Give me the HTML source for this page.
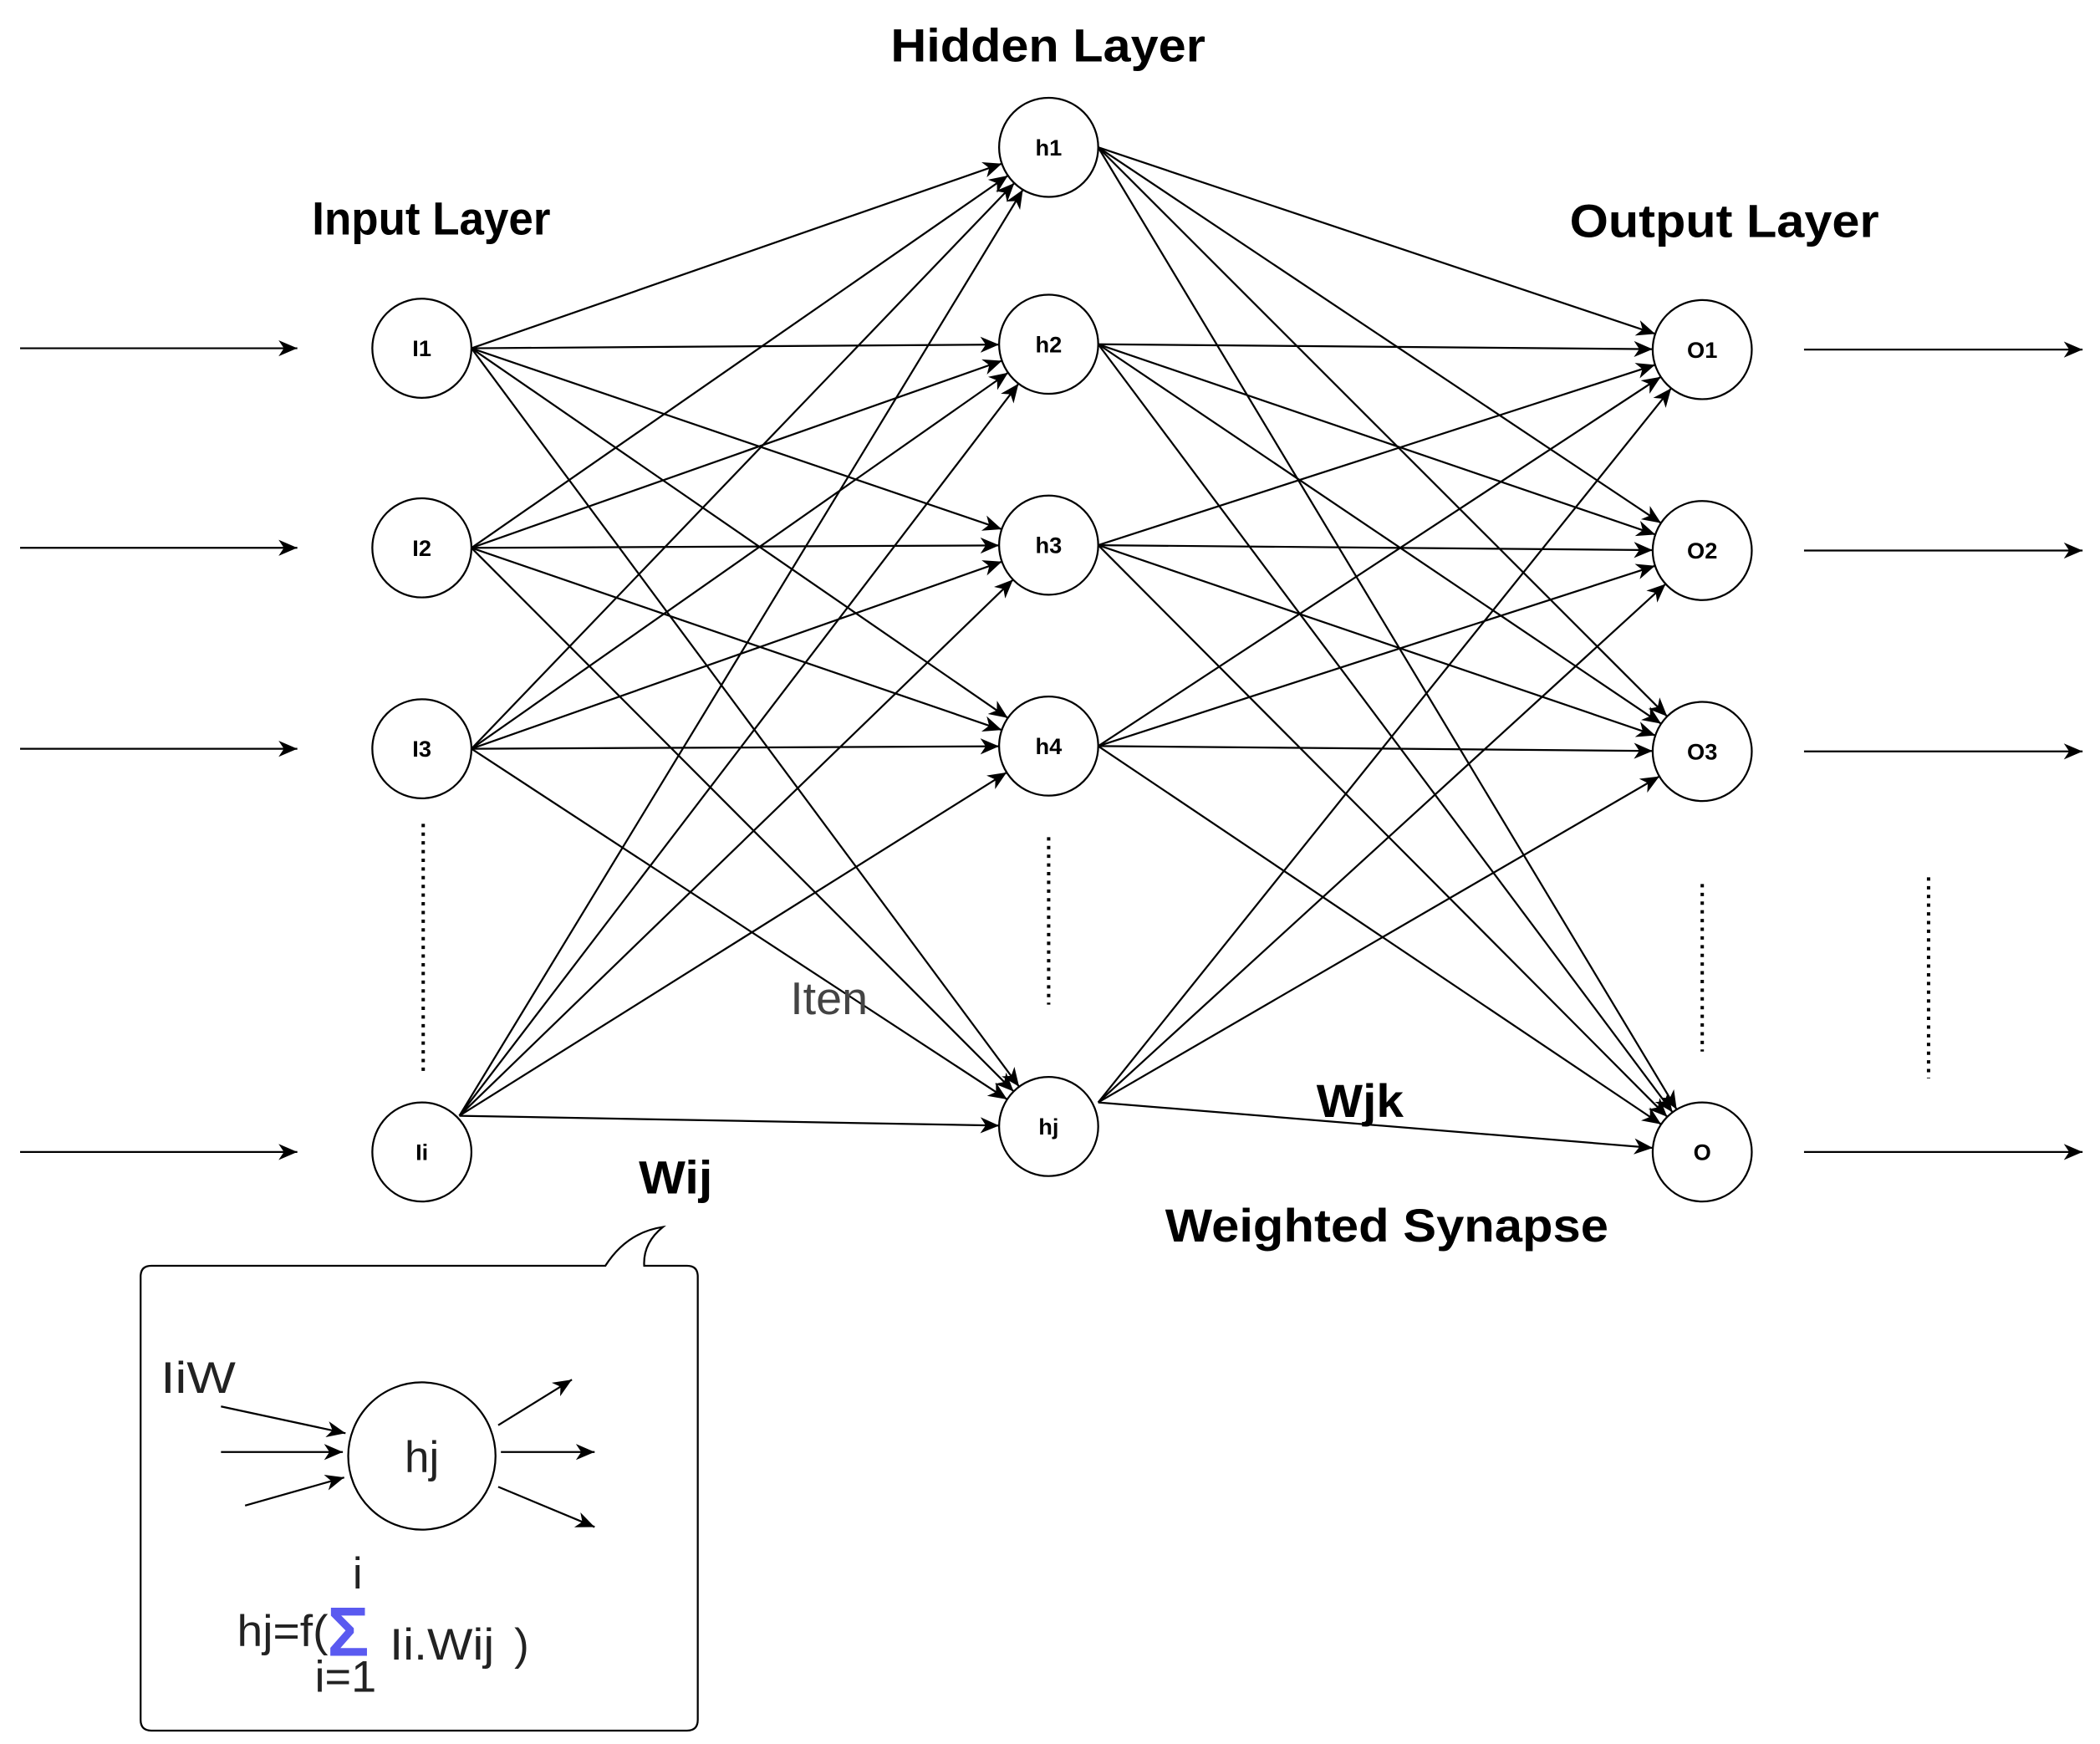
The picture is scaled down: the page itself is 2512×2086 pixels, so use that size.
<!DOCTYPE html>
<html><head><meta charset="utf-8"><style>
html,body{margin:0;padding:0;background:#fff;}
svg{display:block;}
text{font-family:"Liberation Sans",Arial,sans-serif;}
</style></head><body>
<svg width="2512" height="2086" viewBox="0 0 1568 1302" preserveAspectRatio="none" xmlns="http://www.w3.org/2000/svg">
<defs>
<marker id="a" markerUnits="userSpaceOnUse" markerWidth="80" markerHeight="20" viewBox="0 -10 80 20" refX="51" refY="0" orient="auto">
<path d="M0,-6 L14,0 L0,6 L4,0 Z" fill="#000"/>
</marker>
<marker id="b" markerUnits="userSpaceOnUse" markerWidth="20" markerHeight="20" viewBox="0 -10 20 20" refX="14" refY="0" orient="auto">
<path d="M0,-6 L14,0 L0,6 L4,0 Z" fill="#000"/>
</marker>
</defs>
<g stroke="#000" stroke-width="1.4" fill="none">
<line x1="15" y1="260" x2="222" y2="260" marker-end="url(#b)"/>
<line x1="15" y1="409" x2="222" y2="409" marker-end="url(#b)"/>
<line x1="15" y1="559" x2="222" y2="559" marker-end="url(#b)"/>
<line x1="15" y1="860" x2="222" y2="860" marker-end="url(#b)"/>
<line x1="1347" y1="261" x2="1555" y2="261" marker-end="url(#b)"/>
<line x1="1347" y1="411" x2="1555" y2="411" marker-end="url(#b)"/>
<line x1="1347" y1="561" x2="1555" y2="561" marker-end="url(#b)"/>
<line x1="1347" y1="860" x2="1555" y2="860" marker-end="url(#b)"/>
<g marker-end="url(#a)">
<line x1="352" y1="260" x2="783" y2="110"/><line x1="352" y1="260" x2="783" y2="257"/><line x1="352" y1="260" x2="783" y2="407"/><line x1="352" y1="260" x2="783" y2="557"/><line x1="352" y1="260" x2="783" y2="841"/>
<line x1="352" y1="409" x2="783" y2="110"/><line x1="352" y1="409" x2="783" y2="257"/><line x1="352" y1="409" x2="783" y2="407"/><line x1="352" y1="409" x2="783" y2="557"/><line x1="352" y1="409" x2="783" y2="841"/>
<line x1="352" y1="559" x2="783" y2="110"/><line x1="352" y1="559" x2="783" y2="257"/><line x1="352" y1="559" x2="783" y2="407"/><line x1="352" y1="559" x2="783" y2="557"/><line x1="352" y1="559" x2="783" y2="841"/>
<line x1="343" y1="833" x2="783" y2="110"/><line x1="343" y1="833" x2="783" y2="257"/><line x1="343" y1="833" x2="783" y2="407"/><line x1="343" y1="833" x2="783" y2="557"/><line x1="343" y1="833" x2="783" y2="841"/>
<line x1="820" y1="110" x2="1271" y2="261"/><line x1="820" y1="110" x2="1271" y2="411"/><line x1="820" y1="110" x2="1271" y2="561"/><line x1="820" y1="110" x2="1271" y2="860"/>
<line x1="820" y1="257" x2="1271" y2="261"/><line x1="820" y1="257" x2="1271" y2="411"/><line x1="820" y1="257" x2="1271" y2="561"/><line x1="820" y1="257" x2="1271" y2="860"/>
<line x1="820" y1="407" x2="1271" y2="261"/><line x1="820" y1="407" x2="1271" y2="411"/><line x1="820" y1="407" x2="1271" y2="561"/><line x1="820" y1="407" x2="1271" y2="860"/>
<line x1="820" y1="557" x2="1271" y2="261"/><line x1="820" y1="557" x2="1271" y2="411"/><line x1="820" y1="557" x2="1271" y2="561"/><line x1="820" y1="557" x2="1271" y2="860"/>
<line x1="820" y1="823" x2="1271" y2="261"/><line x1="820" y1="823" x2="1271" y2="411"/><line x1="820" y1="823" x2="1271" y2="561"/><line x1="820" y1="823" x2="1271" y2="860"/>
</g>
<g stroke-dasharray="2.5,4" stroke-width="2.5">
<line x1="316" y1="615" x2="316" y2="800"/>
<line x1="783" y1="625" x2="783" y2="750"/>
<line x1="1271" y1="660" x2="1271" y2="785"/>
<line x1="1440" y1="655" x2="1440" y2="805"/>
</g>
<g fill="#fff">
<circle cx="315" cy="260" r="37"/><circle cx="315" cy="409" r="37"/><circle cx="315" cy="559" r="37"/><circle cx="315" cy="860" r="37"/>
<circle cx="783" cy="110" r="37"/><circle cx="783" cy="257" r="37"/><circle cx="783" cy="407" r="37"/><circle cx="783" cy="557" r="37"/><circle cx="783" cy="841" r="37"/>
<circle cx="1271" cy="261" r="37"/><circle cx="1271" cy="411" r="37"/><circle cx="1271" cy="561" r="37"/><circle cx="1271" cy="860" r="37"/>
</g>
<path d="M113,945 L452,945 Q468,920 495,916 Q480,928 481,945 L513,945 Q521,945 521,953 L521,1284 Q521,1292 513,1292 L113,1292 Q105,1292 105,1284 L105,953 Q105,945 113,945 Z" fill="#fff"/>
<circle cx="315" cy="1087" r="55"/>
<line x1="165" y1="1050" x2="258" y2="1070" marker-end="url(#b)"/>
<line x1="165" y1="1084" x2="256" y2="1084" marker-end="url(#b)"/>
<line x1="183" y1="1124" x2="257" y2="1103" marker-end="url(#b)"/>
<line x1="372" y1="1064" x2="427" y2="1030" marker-end="url(#b)"/>
<line x1="374" y1="1084" x2="444" y2="1084" marker-end="url(#b)"/>
<line x1="372" y1="1110" x2="444" y2="1140" marker-end="url(#b)"/>
</g>
<g font-weight="bold" font-size="17" text-anchor="middle" fill="#000">
<text x="315" y="266">I1</text><text x="315" y="415">I2</text><text x="315" y="565">I3</text><text x="315" y="866">Ii</text>
<text x="783" y="116">h1</text><text x="783" y="263">h2</text><text x="783" y="413">h3</text><text x="783" y="563">h4</text><text x="783" y="847">hj</text>
<text x="1271" y="267">O1</text><text x="1271" y="417">O2</text><text x="1271" y="567">O3</text><text x="1271" y="866">O</text>
</g>
<g font-weight="bold" font-size="35" fill="#000">
<text x="665" y="46" textLength="235" lengthAdjust="spacingAndGlyphs">Hidden Layer</text>
<text x="233" y="175" textLength="178" lengthAdjust="spacingAndGlyphs">Input Layer</text>
<text x="1172" y="177" textLength="231" lengthAdjust="spacingAndGlyphs">Output Layer</text>
<text x="477" y="891" textLength="55" lengthAdjust="spacingAndGlyphs">Wij</text>
<text x="983" y="834" textLength="65" lengthAdjust="spacingAndGlyphs">Wjk</text>
<text x="870" y="927" textLength="331" lengthAdjust="spacingAndGlyphs">Weighted Synapse</text>
</g>
<text x="590" y="757" font-size="34" fill="#444" textLength="58" lengthAdjust="spacingAndGlyphs">Iten</text>
<g font-size="33" fill="#222">
<text x="120" y="1040" textLength="56" lengthAdjust="spacingAndGlyphs">IiW</text>
<text x="315" y="1099" text-anchor="middle">hj</text>
<text x="177" y="1229" textLength="68" lengthAdjust="spacingAndGlyphs">hj=f(</text>
<text x="267" y="1186" text-anchor="middle">i</text>
<text x="258" y="1263" text-anchor="middle" textLength="46" lengthAdjust="spacingAndGlyphs">i=1</text>
<text x="291" y="1239" textLength="78" lengthAdjust="spacingAndGlyphs">Ii.Wij</text>
<text x="384" y="1239">)</text>
</g>
<text x="260" y="1236" font-size="52" font-weight="bold" fill="#5a5af0" text-anchor="middle">Σ</text>
</svg>
</body></html>
